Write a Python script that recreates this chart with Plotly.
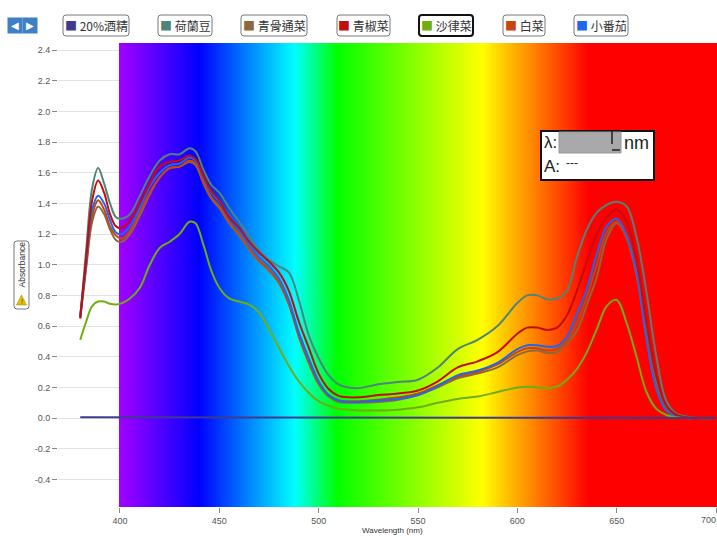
import numpy as np
import plotly.graph_objects as go

wavelengths = [380,383,386,389,392,395,398,401,405,410,415,420,425,430,435,438,442,446,450,455,
               460,465,470,475,480,485,490,495,500,505,510,515,520,530,540,550,560,570,580,590,
               600,605,610,615,620,625,630,635,640,645,650,655,660,665,670,675,680,685,690,700]
helandou = [.66,1.1,1.5,1.63,1.53,1.40,1.31,1.30,1.33,1.45,1.58,1.68,1.72,1.72,1.76,1.74,1.62,1.52,1.47,1.37,
            1.28,1.19,1.09,1.03,.99,.95,.77,.54,.39,.28,.22,.20,.195,.22,.235,.25,.33,.45,.51,.60,
            .75,.80,.80,.775,.78,.83,1.05,1.23,1.34,1.39,1.41,1.38,1.18,.82,.40,.11,.03,.01,0,0]
qinggu = [.65,.98,1.28,1.38,1.33,1.23,1.16,1.15,1.20,1.32,1.46,1.57,1.63,1.64,1.67,1.65,1.53,1.43,1.37,1.27,
          1.19,1.10,1.02,.96,.88,.74,.53,.36,.22,.14,.105,.10,.10,.105,.12,.15,.20,.26,.29,.33,
          .41,.435,.44,.425,.43,.49,.57,.74,.92,1.17,1.27,1.18,.94,.56,.24,.07,.02,.005,0,0]
qingjiao = [.65,1.05,1.42,1.55,1.47,1.33,1.25,1.24,1.29,1.40,1.53,1.64,1.67,1.68,1.71,1.69,1.58,1.48,1.42,1.31,
            1.24,1.15,1.08,1.02,.95,.83,.63,.46,.29,.19,.145,.135,.135,.15,.16,.18,.24,.33,.37,.43,
            .55,.59,.59,.575,.59,.67,.83,1.02,1.20,1.31,1.36,1.28,1.03,.62,.27,.08,.02,.005,0,0]
shalv = [.51,.63,.73,.76,.76,.745,.74,.75,.78,.85,1.0,1.11,1.15,1.20,1.28,1.27,1.13,.96,.85,.78,
         .76,.74,.69,.58,.46,.34,.24,.165,.11,.08,.06,.055,.05,.05,.055,.07,.10,.125,.14,.17,
         .20,.205,.20,.195,.205,.25,.32,.43,.58,.73,.77,.62,.40,.17,.06,.02,.005,0,0,0]
baicai = [.66,1.00,1.32,1.42,1.36,1.25,1.19,1.17,1.22,1.34,1.47,1.57,1.63,1.64,1.68,1.66,1.54,1.44,1.38,1.28,
          1.20,1.11,1.03,.97,.89,.75,.54,.37,.23,.15,.115,.11,.11,.12,.135,.16,.215,.27,.30,.35,
          .43,.455,.455,.44,.45,.50,.62,.79,1.0,1.21,1.28,1.17,.93,.52,.19,.05,.01,0,0,0]
fanqie = [.67,1.02,1.36,1.45,1.40,1.29,1.21,1.20,1.25,1.37,1.51,1.60,1.65,1.66,1.70,1.68,1.57,1.47,1.41,1.32,
          1.23,1.13,1.05,.99,.91,.77,.56,.39,.24,.15,.115,.105,.105,.115,.125,.15,.21,.28,.31,.36,
          .45,.475,.475,.465,.47,.53,.68,.84,1.07,1.25,1.30,1.19,.95,.52,.19,.05,.01,0,0,0]
ethanol_wavelengths = [380,450,550,650,700]
ethanol = [.005,.003,.001,0,0]

labels = ["20%酒精","荷蘭豆","青骨通菜","青椒菜","沙律菜","白菜","小番茄"]
colors = ["#3f3a8f","#4f8478","#8a6a3c","#c00d0d","#6fae10","#c8460e","#1f66f0"]
y_ticks = [-0.4,-0.2,0.0,0.2,0.4,0.6,0.8,1.0,1.2,1.4,1.6,1.8,2.0,2.2,2.4]
x_ticks = [400,450,500,550,600,650,700]

spectrum_stops = [(400,"#a000ff"),(440,"#0000ff"),(488,"#00ffff"),(509,"#00ff00"),(582,"#ffff00"),(636,"#ff0000"),(700,"#ff0000")]

W, H = 717, 537
L, R, T, B = 58, 0, 43, 30
pw, ph = W-L-R, H-T-B
px = lambda v: (v-L)/pw
py = lambda v: 1-(v-T)/ph

def rounded(a, b, t, u, r=3):
    xs = lambda v: f"{px(v):.5f}"
    ys = lambda v: f"{py(v):.5f}"
    return (f"M {xs(a+r)} {ys(t)} L {xs(b-r)} {ys(t)} Q {xs(b)} {ys(t)} {xs(b)} {ys(t+r)} "
            f"L {xs(b)} {ys(u-r)} Q {xs(b)} {ys(u)} {xs(b-r)} {ys(u)} L {xs(a+r)} {ys(u)} "
            f"Q {xs(a)} {ys(u)} {xs(a)} {ys(u-r)} L {xs(a)} {ys(t+r)} Q {xs(a)} {ys(t)} {xs(a+r)} {ys(t)} Z")

fig = go.Figure()
sp_x = np.arange(400, 700.5, 1.0)
lo, hi = spectrum_stops[0][0], spectrum_stops[-1][0]
fig.add_trace(go.Heatmap(
    x=sp_x, y=[-0.58, 2.446], z=[sp_x],
    colorscale=[[(w-lo)/(hi-lo), c] for w, c in spectrum_stops],
    zmin=lo, zmax=hi, showscale=False, hoverinfo="skip"))

order = [(helandou,1),(qinggu,2),(baicai,5),(fanqie,6),(qingjiao,3),(shalv,4)]
for vals, i in order:
    fig.add_trace(go.Scatter(x=wavelengths, y=vals, mode="lines", name=labels[i],
                             line=dict(color=colors[i], width=2, shape="spline", smoothing=1.0)))
fig.add_trace(go.Scatter(x=ethanol_wavelengths, y=ethanol, mode="lines", name=labels[0],
                         line=dict(color=colors[0], width=2)))

anns = []
shapes = []
boxes = [(63,129),(158,212),(241,307),(337,390),(419,473),(503,545),(574,628)]
for i, (a, b) in enumerate(boxes):
    sel = labels[i] == "沙律菜"
    shapes.append(dict(type="path", xref="paper", yref="paper", path=rounded(a, b, 15, 36), fillcolor="white",
                       line=dict(color="#111" if sel else "#777", width=2 if sel else 1)))
    anns.append(dict(xref="paper", yref="paper", x=px((a+b)/2), y=py(25.5), xanchor="center", yanchor="middle",
                     showarrow=False, align="center",
                     text=f'<span style="color:{colors[i]}">■</span> {labels[i]}',
                     font=dict(size=12, color="#333", family="Noto Sans CJK TC"), borderpad=0))
for x, g in [(15,"◀"),(30,"▶")]:
    anns.append(dict(xref="paper", yref="paper", x=px(x), y=py(25.5), xanchor="center", yanchor="middle",
                     width=14, height=15, showarrow=False, text=g, align="center",
                     font=dict(size=10, color="white", family="DejaVu Sans"), bgcolor="#3d80c6", borderpad=0))
shapes.append(dict(type="path", xref="paper", yref="paper", path=rounded(14, 29, 241, 309), fillcolor="white",
                   line=dict(color="#777", width=1)))
shapes.append(dict(type="path", xref="paper", yref="paper",
                   path=f"M {px(21.5):.5f} {py(295):.5f} L {px(26.5):.5f} {py(305):.5f} L {px(16.5):.5f} {py(305):.5f} Z",
                   fillcolor="#e6c400", line=dict(color="#8a7a00", width=0.5)))
anns.append(dict(xref="paper", yref="paper", x=px(21.5), y=py(265), xanchor="center", yanchor="middle",
                 textangle=-90, showarrow=False, text="Absorbance",
                 font=dict(size=8.5, color="#333", family="Liberation Sans"), borderpad=0))
anns.append(dict(xref="paper", yref="paper", x=px(21.5), y=py(301), xanchor="center", yanchor="middle",
                 showarrow=False, text="!", font=dict(size=7, color="#333", family="Liberation Sans"), borderpad=0))
for x, y, t, s in [(543,143,"λ:",17),(623,143,"nm",18),(543,166,"A:",17),(565,163,"---",12)]:
    anns.append(dict(xref="paper", yref="paper", x=px(x), y=py(y), xanchor="left", yanchor="middle",
                     showarrow=False, text=t, font=dict(size=s, color="#222", family="Liberation Sans"), borderpad=0))
anns.append(dict(xref="paper", yref="paper", x=px(392), y=py(530), xanchor="center", yanchor="middle",
                 showarrow=False, text="Wavelength (nm)", font=dict(size=8, color="#333", family="Liberation Sans"), borderpad=0))
anns.append(dict(xref="paper", yref="paper", x=1, y=py(520), xanchor="right", yanchor="middle",
                 showarrow=False, text=str(x_ticks[-1]), font=dict(size=9, color="#555", family="Liberation Sans"), borderpad=0))

shapes += [
    dict(type="rect", xref="paper", yref="paper", x0=px(541), x1=px(654), y0=py(180), y1=py(131),
         fillcolor="white", line=dict(color="#111", width=2)),
    dict(type="rect", xref="paper", yref="paper", x0=px(559), x1=px(621), y0=py(153), y1=py(132),
         fillcolor="#a9a9ab", line=dict(color="#999", width=1)),
    dict(type="line", xref="paper", yref="paper", x0=px(612), x1=px(612), y0=py(144), y1=py(131), line=dict(color="#222", width=1.5)),
    dict(type="line", xref="paper", yref="paper", x0=px(612), x1=px(620), y0=py(150), y1=py(150), line=dict(color="#222", width=1.5)),
]

fig.update_layout(
    width=W, height=H, margin=dict(l=L, r=R, t=T, b=B), paper_bgcolor="white", plot_bgcolor="white",
    showlegend=False, annotations=anns, shapes=shapes, font=dict(family="Liberation Sans", size=9, color="#555"),
    xaxis=dict(range=[368.8, 700.5], tickvals=x_ticks, ticktext=[str(v) for v in x_ticks[:-1]] + [" "], ticks="outside", ticklen=5,
               tickcolor="#888", showgrid=False, zeroline=False, showline=False),
    yaxis=dict(range=[-0.58, 2.446], tickvals=y_ticks, ticktext=[f"{v:.1f}" for v in y_ticks], ticks="outside", ticklen=5,
               tickcolor="#888", showgrid=True, gridcolor="#e2e2e2", gridwidth=1, zeroline=False, showline=False),
)
fig.write_html("out.html", config={"displayModeBar": False}, post_script="document.body.style.margin='0';")
